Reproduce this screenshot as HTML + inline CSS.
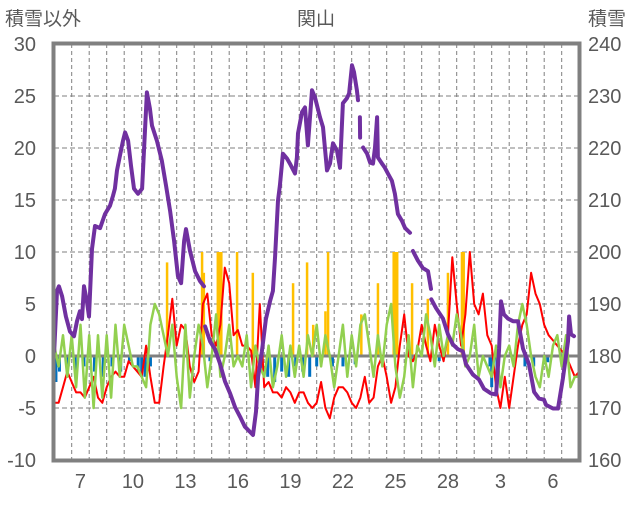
<!DOCTYPE html>
<html><head><meta charset="utf-8"><style>
body{margin:0;background:#fff;}
svg text{font-family:"Liberation Sans","Noto Sans CJK JP",sans-serif;fill:#595959;}
</style></head><body>
<svg id="chart" width="636" height="501" viewBox="0 0 636 501" xmlns="http://www.w3.org/2000/svg">
<rect width="636" height="501" fill="#fff"/>
<text x="5" y="25" font-size="19">積雪以外</text>
<text x="316" y="25" font-size="19" text-anchor="middle">関山</text>
<text x="588" y="25" font-size="19">積雪</text>
<g id="grid"></g>
<g id="marks"></g>
<g id="ticks"></g>
<rect x="53.5" y="43.5" width="526" height="417" fill="none" stroke="#808080" stroke-width="4"/>
</svg>
<script>
const xLabels=["7","10","13","16","19","22","25","28","3","6"];
const leftTicks=[30,25,20,15,10,5,0,-5,-10];
const rightTicks=[240,230,220,210,200,190,180,170,160];
const redV=[-4.5,-4.5,-3,-1.5,-2.5,-3.5,-3.5,-4,-3,-2,-4,-4.5,-3,-2,-1.5,-2,-2,-0.5,-1,-1.5,-2,1,-2,-4.5,-4.5,-1,2,5.5,1,3,2.5,-1,-2.5,-1.5,5,6,2,1,3,8.5,7,2,2.5,1,1,0.5,-3,5,-3,-2.5,-3.5,-3.5,-4,-3,-3.5,-4.5,-3.5,-3.5,-4.5,-5,-4.5,-2.5,-5,-6,-4,-3,-3,-3.5,-4.5,-5,-4,-2,-4.5,-4,-1,0,-2,-4.5,-3,1,4,0,-0.5,0.5,3,1,-0.5,3,1,-0.5,2,9.5,5,1,4,10,5,4,6,2,1,-3,-5,-2,-5,-2,1,3,4,8,6,5,3,2,1.5,1,0.5,0,-1,-2,-1.5];
const greenV=[1,-1,2,-2,2,-3,3,-4,2,-5,2,-4,2,-4,3,-2,3,1,-1,-1,-2,-3,3,5,4,2,0,3,-2,-5,3,-4,0,3,1,-3,0,4,-2,0,3,-1,0,-1,2,-3,1,-1,-2,1,-3,-1,2,-2,1,-2,1,-2,2,0,3,-1,2,0,-3,0,3,-2,2,-1,3,4,1,-2,2,-1,3,5,-1,-4,-2,2,-3,1,0,4,2,-1,3,0,2,1,4,2,-1,0,3,-2,0,-1,-2,1,-3,0,1,-1,3,5,3,0,-2,-3,0,-2,1,2,-1,2,-3,-2,-2];
const purpleT=[0,0.16,0.27,0.45,0.67,0.9,1.13,1.3,1.47,1.59,1.7,1.87,1.99,2.16,2.33,2.62,2.9,3.19,3.36,3.47,3.59,3.76,3.93,4.05,4.22,4.39,4.56,4.79,5.02,5.19,5.3,5.47,5.59,5.87,6.15,6.39,6.62,6.85,7.07,7.25,7.42,7.53,7.76,8.05,8.33,8.56,null,8.62,8.91,9.19,9.47,9.76,10.05,10.33,10.62,10.9,11.19,11.36,11.53,11.65,11.87,12.1,12.33,12.5,12.62,12.79,12.9,13.07,13.3,13.47,13.76,13.87,13.93,14.16,14.33,14.5,14.73,14.9,15.19,15.36,15.59,15.76,15.93,16.16,16.33,16.5,16.73,16.85,17.02,17.13,17.3,17.36,null,17.47,17.48,null,17.65,17.88,18.05,18.22,18.33,18.45,18.5,18.73,18.9,19.07,19.3,19.47,19.64,19.87,20.05,20.33,null,20.5,20.79,21.07,21.36,21.53,null,21.55,21.82,22.22,22.5,22.79,23.07,23.35,23.53,23.93,24.27,24.56,24.96,25.25,25.42,25.53,25.7,25.93,26.22,26.5,26.79,27.13,27.42,27.7,27.99,28.1,28.5,28.79,29.07,29.36,29.42,29.53,29.7];
const purpleV=[180.9,192.5,193.4,191.5,187.6,184.7,183.8,186.7,188.6,187.1,193.4,190.5,187.6,200.6,205,204.6,207.3,208.9,210.8,212.2,215.7,218.6,221.4,223,221.4,216.6,212.2,211.2,212.2,223.4,230.7,227.6,224.3,221.4,217.6,212.8,207.9,202.1,195.4,194,202.1,204.4,200.2,196.3,194.4,193.4,null,185.7,182.8,181.3,178.6,175.1,172.8,170.2,168.3,166.4,165.4,164.8,169.3,176,180.9,187.1,190.5,192.5,199.2,209.9,212.8,218.9,218,217,215.1,218.2,222.8,226.9,227.8,220.5,231.1,229.8,225.9,224,215.7,217,220.9,219.5,216.2,228.6,229.6,230.5,235.9,234.6,231.1,229.2,null,225.9,222,null,220.1,218.9,217.2,217,220.1,225.9,218.2,217,216.2,215.1,213.7,211.2,207.3,206,204.6,203.7,null,200.2,198.3,196.9,196.3,192.9,null,190.9,189.2,187.2,184.2,182.2,181.3,180.9,178.4,176.4,175.5,173.7,172.8,172.6,181.4,190.5,188,187.2,186.7,186.7,181.4,178.4,173.1,171.8,171.6,170.6,169.9,169.9,175.7,182.8,187.6,184.2,183.8];
const orangeT=[6.45,8.45,8.55,9.35,9.45,9.55,10.45,11.35,13.65,14.45,14.8,15.5,15.65,17.55,18.5,19.4,19.5,19.6,20.45,21.35,22.5,23.3,23.4];
const orangeV=[9,10,8,10,10,10,10,8,7,9,3,4.3,10,4,7,10,10,10,7,5.5,8,10,10];
const blueT=[0.1,0.3,0.8,1.2,1.7,2.3,2.8,3.3,3.8,4.3,4.8,5.0,5.2,5.5,8.9,11.8,12.2,12.6,13.0,13.4,13.8,14.2,14.6,15.0,15.9,16.5,17.2,20.4,22.0,24.9,25.0,25.3,26.9,27.4,28.0,28.2];
const blueV=[-2.5,-1.5,-1,-1.5,-1,-1.5,-2,-1,-1.5,-0.5,-1.5,-2,-2,-1,-0.5,-1.5,-2,-2.5,-1.5,-2,-1,-1.5,-2,-1,-1,-1,-0.8,-0.5,-0.5,-1,-3,-1.5,-1,-1,-0.8,-0.6];

const NS='http://www.w3.org/2000/svg';
const X0=54.2,DAY=17.5;
function xs(t){return X0+t*DAY;}
function yl(v){return 356-v*10.4;}
function yr(v){return 460-(v-160)*5.2;}
function mk(tag,attrs,parent){const e=document.createElementNS(NS,tag);for(const k in attrs)e.setAttribute(k,attrs[k]);parent.appendChild(e);return e;}
const grid=document.getElementById('grid'),marks=document.getElementById('marks'),ticks=document.getElementById('ticks');
for(let d=1;d<30;d++){const l=mk('line',{x1:xs(d),x2:xs(d),y1:44,y2:460,stroke:'#7f7f7f','stroke-width':1,'stroke-dasharray':'4,3'},grid);

}
leftTicks.forEach((v,i)=>{if(v!==0&&v!==30&&v!==-10){const l=mk('line',{x1:54,x2:578,y1:yl(v),y2:yl(v),stroke:'#7f7f7f','stroke-width':1,'stroke-dasharray':'5,3'},grid);

}
const t=mk('text',{x:36,y:yl(v)+7,'font-size':20,'text-anchor':'end'},ticks);t.textContent=String(v);

});
rightTicks.forEach(v=>{const t=mk('text',{x:588,y:yr(v)+7,'font-size':20},ticks);t.textContent=String(v);

});
xLabels.forEach((s,i)=>{const t=mk('text',{x:xs(1.5+i*3),y:488,'font-size':20,'text-anchor':'middle'},ticks);t.textContent=s;

});
blueT.forEach((t,i)=>{const b=mk('rect',{x:xs(t)-1.5,y:yl(0),width:3,height:yl(blueV[i])-yl(0),fill:'#0070c0'},marks);

});
orangeT.forEach((t,i)=>{const b=mk('rect',{x:xs(t)-1.25,y:yl(orangeV[i]),width:2.5,height:yl(0)-yl(orangeV[i]),fill:'#ffc000'},marks);

});
const zl=mk('line',{x1:54,x2:578,y1:yl(0),y2:yl(0),stroke:'#808080','stroke-width':3},marks);


function series(vals,color,w,name){const p=vals.map((v,i)=>(i?'L':'M')+xs(i*0.25).toFixed(1)+','+yl(v).toFixed(1)).join('');
const e=mk('path',{d:p,fill:'none',stroke:color,'stroke-width':w,'stroke-linejoin':'round'},marks);

}
series(redV,'#ff0000',2,'red-line');
series(greenV,'#92d050',2.5,'green-line');
let d='',pen=false;
purpleT.forEach((t,i)=>{const v=purpleV[i];if(t===null||v===null){pen=false;return;}d+=(pen?'L':'M')+xs(t).toFixed(1)+','+yr(v).toFixed(1);pen=true;});
const pl=mk('path',{d:d,fill:'none',stroke:'#7030a0','stroke-width':4,'stroke-linejoin':'round','stroke-linecap':'round'},marks);


</script>
</body></html>
